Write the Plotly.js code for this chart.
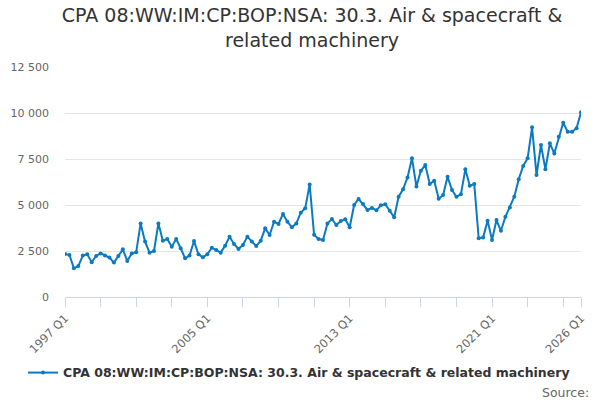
<!DOCTYPE html>
<html>
<head>
<meta charset="utf-8">
<script src="https://cdn.plot.ly/plotly-3.0.1.min.js"></script>
<style>
  html, body { margin: 0; padding: 0; background: #fff; }
  #chart { width: 600px; height: 400px; }
</style>
</head>
<body>
<div id="chart"></div>
<script>
const startYear = 1997;
const values = [
  2340, 2280, 1560, 1680, 2250, 2320, 1890, 2230,
  2370, 2250, 2140, 1870, 2230, 2590, 1960, 2370,
  2430, 4000, 3010, 2410, 2500, 4000, 3060, 3150,
  2730, 3150, 2650, 2100, 2250, 3040, 2320, 2160,
  2320, 2680, 2550, 2410, 2790, 3280, 2880, 2610,
  2830, 3280, 3010, 2770, 3060, 3730, 3370, 4090,
  3970, 4510, 4090, 3790, 4000, 4580, 4820, 6120,
  3380, 3150, 3100, 4000, 4240, 3910, 4130, 4220,
  3790, 5000, 5330, 5050, 4730, 4840, 4710, 4980,
  5040, 4690, 4330, 5450, 5850, 6500, 7540, 6000,
  6860, 7170, 6140, 6320, 5340, 5540, 6540, 5815,
  5450, 5580, 6940, 6050, 6140, 3190, 3240, 4150,
  3100, 4180, 3600, 4360, 4870, 5450, 6400, 7120,
  7540, 9220, 6630, 8260, 6940, 8350, 7800, 8710,
  9470, 8985, 8985, 9170, 10040
];

const quarters = values.map((_, i) => {
  const year = startYear + Math.floor(i / 4);
  return year + ' Q' + ((i % 4) + 1);
});

const labelled = ['1997 Q1', '2005 Q1', '2013 Q1', '2021 Q1', '2026 Q1'];
const tickPos = quarters.filter((q, i) => i % 8 === 0 || i === quarters.length - 1);
const tickText = tickPos.map((q) => (labelled.includes(q) ? q : ''));

const seriesName = 'CPA 08:WW:IM:CP:BOP:NSA: 30.3. Air & spacecraft & related machinery';

const trace = {
  x: quarters,
  y: values,
  type: 'scatter',
  mode: 'lines+markers',
  name: seriesName,
  line: { color: '#0a7bc2', width: 2 },
  marker: { color: '#0a7bc2', size: 4 },
  hovertemplate: '%{x}: %{y}<extra></extra>',
};

const layout = {
  width: 600,
  height: 400,
  font: { family: 'DejaVu Sans, sans-serif', color: '#666666', size: 11 },
  paper_bgcolor: '#ffffff',
  plot_bgcolor: '#ffffff',
  title: {
    text: 'CPA 08:WW:IM:CP:BOP:NSA: 30.3. Air & spacecraft &<br>related machinery',
    font: { size: 19, color: '#333333' },
    xref: 'container',
    yref: 'container',
    x: 0.52,
    xanchor: 'center',
    y: 0.945,
    yanchor: 'middle',
  },
  margin: { l: 65, r: 19, t: 67, b: 103 },
  xaxis: {
    type: 'category',
    tickmode: 'array',
    tickvals: tickPos,
    ticktext: tickText,
    tickangle: -45,
    ticks: 'outside',
    ticklen: 9,
    tickcolor: '#ccd6eb',
    showline: true,
    linecolor: '#ccd6eb',
    linewidth: 1,
    showgrid: false,
    zeroline: false,
    range: [0, quarters.length - 1],
    tickfont: { size: 11.5, color: '#666666' },
  },
  yaxis: {
    range: [0, 12500],
    tickvals: [0, 2500, 5000, 7500, 10000, 12500],
    ticktext: ['0', '2 500', '5 000', '7 500', '10 000', '12 500'],
    gridcolor: '#e6e6e6',
    zeroline: false,
    showline: false,
    ticks: '',
    ticklabelstandoff: 15,
    tickfont: { size: 11, color: '#666666' },
  },
  showlegend: true,
  legend: {
    orientation: 'h',
    x: 0.4535,
    xanchor: 'center',
    y: -0.265,
    yanchor: 'top',
    font: { size: 12.5, color: '#333333', weight: 'bold' },
  },
  annotations: [
    {
      text: 'Source:',
      xref: 'paper',
      yref: 'paper',
      x: 1.02,
      xanchor: 'right',
      y: -0.375,
      yanchor: 'top',
      showarrow: false,
      font: { size: 12.5, color: '#666666' },
    },
  ],
};

Plotly.newPlot('chart', [trace], layout, { displayModeBar: false, staticPlot: true });
</script>
</body>
</html>
